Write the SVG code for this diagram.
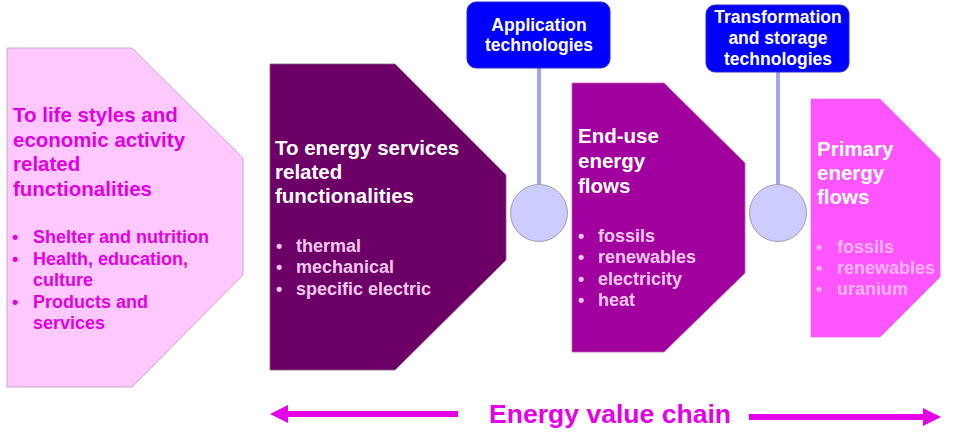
<svg xmlns="http://www.w3.org/2000/svg" width="958" height="448" viewBox="0 0 958 448">
<defs>
<style>
text{font-family:"Liberation Sans",Arial,sans-serif;font-weight:bold}
.t{font-size:20.5px}
.b{font-size:18px}
.lbl{font-size:17.5px;fill:#FFFFFF;text-anchor:middle}
.tech{fill:#0000FF;stroke:#2A2AD0;stroke-width:1}
.hub{fill:#CCCCFF;stroke:#A0A0A8;stroke-width:1}
.conn{stroke:#A4A4F4;stroke-width:4;fill:none}
.val{stroke:#E600E6;stroke-width:6;fill:none}
</style>
<marker id="ah" markerUnits="userSpaceOnUse" markerWidth="18" markerHeight="18" refX="0" refY="9" orient="auto" viewBox="0 0 18 18">
<path d="M0,0 L18,9 L0,18 z" fill="#E600E6"/>
</marker>
</defs>
<rect width="958" height="448" fill="#FFFFFF"/>

<g id="connectors">
<line class="conn" x1="539" y1="68" x2="539" y2="186"/>
<line class="conn" x1="778" y1="72" x2="778" y2="186"/>
</g>

<g id="lifestyles">
<path d="M7,48 L132,48 L243,158 L243,275 L132,387 L7,387 Z" fill="#FFC8FF" stroke="#C8A8C8" stroke-width="1"/>
<g fill="#E100E1">
<text class="t" x="13" y="122">To life styles and</text>
<text class="t" x="13" y="146.5">economic activity</text>
<text class="t" x="13" y="171">related</text>
<text class="t" x="13" y="196">functionalities</text>
<text class="b" x="12" y="243">•</text><text class="b" x="33" y="243">Shelter and nutrition</text>
<text class="b" x="12" y="265">•</text><text class="b" x="33" y="265">Health, education,</text>
<text class="b" x="33" y="286">culture</text>
<text class="b" x="12" y="308">•</text><text class="b" x="33" y="308">Products and</text>
<text class="b" x="33" y="329">services</text>
</g>
</g>

<g id="energy-services">
<path d="M270,64 L395,64 L506,175 L506,260 L395,370 L270,370 Z" fill="#6C0066" stroke="#8A5A88" stroke-width="0.8"/>
<g fill="#FFFFFF">
<text class="t" x="275" y="155">To energy services</text>
<text class="t" x="275" y="179">related</text>
<text class="t" x="275" y="203">functionalities</text>
</g>
<g fill="#F2C8EE">
<text class="b" x="276" y="252">•</text><text class="b" x="296" y="252">thermal</text>
<text class="b" x="276" y="273">•</text><text class="b" x="296" y="273">mechanical</text>
<text class="b" x="276" y="295">•</text><text class="b" x="296" y="295">specific electric</text>
</g>
</g>

<g id="application-technologies">
<rect class="tech" x="467" y="2" width="143" height="66" rx="9"/>
<text class="lbl" x="539" y="30.5">Application</text>
<text class="lbl" x="539" y="50.5">technologies</text>
</g>

<g id="hub-application">
<circle class="hub" cx="539" cy="213" r="28.5"/>
</g>

<g id="end-use">
<path d="M572,83 L664,83 L745,163 L745,273 L664,352 L572,352 Z" fill="#A2009E" stroke="#B860B4" stroke-width="0.8"/>
<g fill="#FFFFFF">
<text class="t" x="578" y="143">End-use</text>
<text class="t" x="578" y="168">energy</text>
<text class="t" x="578" y="193">flows</text>
</g>
<g fill="#F4C8F2">
<text class="b" x="578" y="242">•</text><text class="b" x="598" y="242">fossils</text>
<text class="b" x="578" y="263">•</text><text class="b" x="598" y="263">renewables</text>
<text class="b" x="578" y="285">•</text><text class="b" x="598" y="285">electricity</text>
<text class="b" x="578" y="306">•</text><text class="b" x="598" y="306">heat</text>
</g>
</g>

<g id="transformation-storage">
<rect class="tech" x="706" y="5" width="143" height="67" rx="9"/>
<text class="lbl" x="778" y="22.5">Transformation</text>
<text class="lbl" x="778" y="44">and storage</text>
<text class="lbl" x="778" y="65">technologies</text>
</g>

<g id="hub-transformation">
<circle class="hub" cx="778" cy="213" r="28.5"/>
</g>

<g id="primary">
<path d="M811,99 L880,99 L940,159 L940,277 L880,337 L811,337 Z" fill="#FF55FF" stroke="#E070E0" stroke-width="0.8"/>
<g fill="#FFFFFF">
<text class="t" x="817" y="156">Primary</text>
<text class="t" x="817" y="180">energy</text>
<text class="t" x="817" y="204">flows</text>
</g>
<g fill="#FFB4FF">
<text class="b" x="816" y="253">•</text><text class="b" x="837" y="253">fossils</text>
<text class="b" x="816" y="274">•</text><text class="b" x="837" y="274">renewables</text>
<text class="b" x="816" y="295">•</text><text class="b" x="837" y="295">uranium</text>
</g>
</g>

<g id="value-chain">
<line class="val" x1="458" y1="414" x2="288" y2="414" marker-end="url(#ah)"/>
<line class="val" x1="749" y1="417" x2="923" y2="417" marker-end="url(#ah)"/>
<text x="489" y="423" font-size="25" fill="#E600E6" textLength="242" lengthAdjust="spacingAndGlyphs">Energy value chain</text>
</g>
</svg>
